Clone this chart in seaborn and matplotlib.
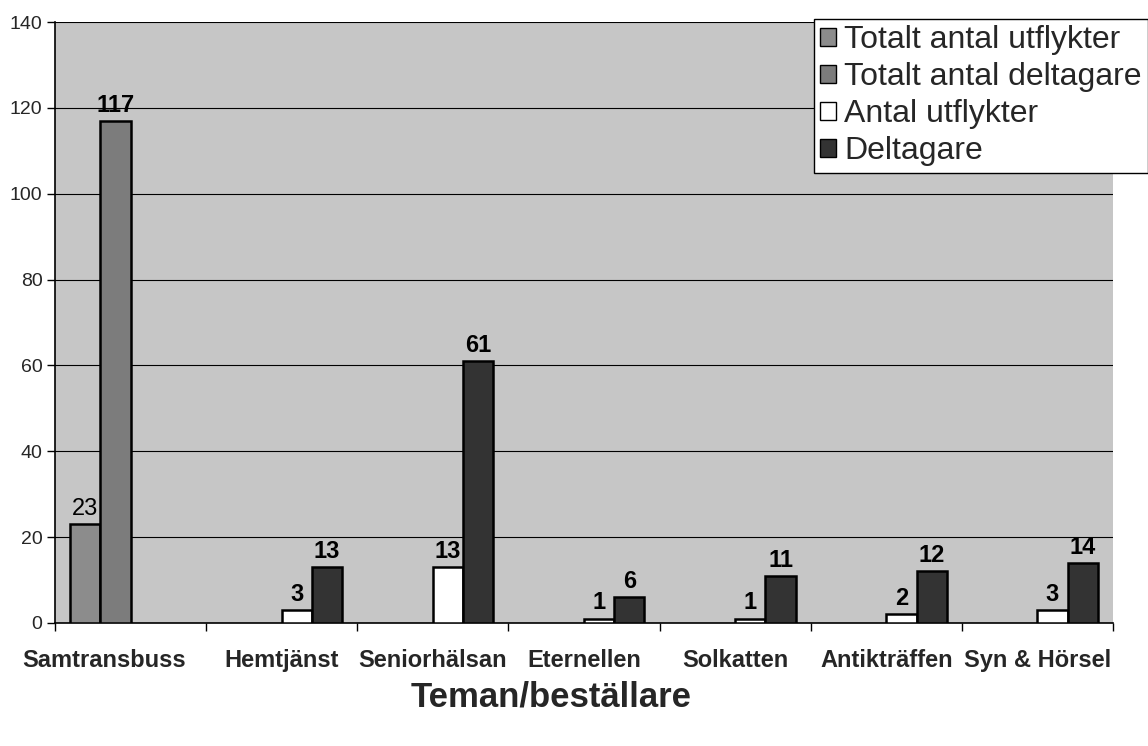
import matplotlib
matplotlib.use("Agg")
import matplotlib.pyplot as plt
import matplotlib.transforms as mtransforms
from matplotlib.patches import Patch
import seaborn as sns
import pandas as pd
import numpy as np

categories = ["Samtransbuss", "Hemtjänst", "Seniorhälsan", "Eternellen",
              "Solkatten", "Antikträffen", "Syn & Hörsel"]
series_names = ["Totalt antal utflykter", "Totalt antal deltagare",
                "Antal utflykter", "Deltagare"]
totalt_utflykter = [23, None, None, None, None, None, None]
totalt_deltagare = [117, None, None, None, None, None, None]
antal_utflykter = [None, 3, 13, 1, 1, 2, 3]
deltagare = [None, 13, 61, 6, 11, 12, 14]
y_ticks = [0, 20, 40, 60, 80, 100, 120, 140]

colors = ["#8c8c8c", "#7c7c7c", "#ffffff", "#333333"]

rows = []
for name, vals in zip(series_names, [totalt_utflykter, totalt_deltagare,
                                     antal_utflykter, deltagare]):
    for c, v in zip(categories, vals):
        if v is not None:
            rows.append({"Kategori": c, "Serie": name, "Värde": v})
df = pd.DataFrame(rows)

sns.set_theme(style="white")
plt.rcParams["font.family"] = ["Liberation Sans", "DejaVu Sans"]

fig = plt.figure(figsize=(11.48, 7.46), dpi=100)
ax = fig.add_axes([0.048, 0.165, 0.9215, 0.8055])
ax.set_facecolor("#c6c6c6")

sns.barplot(data=df, x="Kategori", y="Värde", hue="Serie",
            order=categories, hue_order=series_names,
            palette=colors, edgecolor="black", linewidth=1.8,
            width=0.8, dodge=True, errorbar=None, legend=False, ax=ax,
            zorder=3)

for i, cont in enumerate(ax.containers):
    weight = "normal" if i == 0 else "bold"
    ax.bar_label(cont, fmt="%g", padding=3, fontsize=17, fontweight=weight,
                 color="black")

ax.set_ylim(0, 140)
ax.set_yticks(y_ticks)
ax.set_yticklabels([str(t) for t in y_ticks], fontsize=14)
ax.set_xlim(-0.5, len(categories) - 0.5)
ax.yaxis.grid(True, color="black", linewidth=0.8, zorder=0)
ax.set_axisbelow(True)

ax.set_xticks(range(len(categories)))
ax.set_xticklabels(categories, fontsize=17, fontweight="bold")
ax.set_xticks(np.arange(-0.5, len(categories), 1.0), minor=True)
ax.tick_params(axis="x", which="major", length=0, pad=19)
ax.tick_params(axis="x", which="minor", length=6, color="black", width=1, direction="out")
ax.tick_params(axis="y", length=6, color="black", width=1, direction="out", left=True, pad=3)
ax.xaxis.set_tick_params(which="minor", bottom=True)

# Samtransbuss label sits slightly left in the reference
lbl = ax.get_xticklabels()[0]
lbl.set_transform(lbl.get_transform() +
                  mtransforms.ScaledTranslation(-0.27, 0, fig.dpi_scale_trans))

for s in ["top", "right"]:
    ax.spines[s].set_visible(False)
for s in ["left", "bottom"]:
    ax.spines[s].set_color("black")
    ax.spines[s].set_linewidth(1.2)

ax.set_xlabel("")
ax.set_ylabel("")
fig.text(0.48, 0.066, "Teman/beställare", ha="center", va="center",
         fontsize=25, fontweight="bold")

handles = [Patch(facecolor=c, edgecolor="black", linewidth=1) for c in colors]
leg = fig.legend(handles, series_names, loc="upper right",
                 bbox_to_anchor=(1.0, 0.975), fontsize=23, frameon=True,
                 fancybox=False, edgecolor="black", framealpha=1,
                 handlelength=0.5, handleheight=0.5, handletextpad=0.25,
                 labelspacing=0.22, borderpad=0.2, borderaxespad=0)
leg.get_frame().set_linewidth(1.0)

fig.savefig("out.png", dpi=100)
